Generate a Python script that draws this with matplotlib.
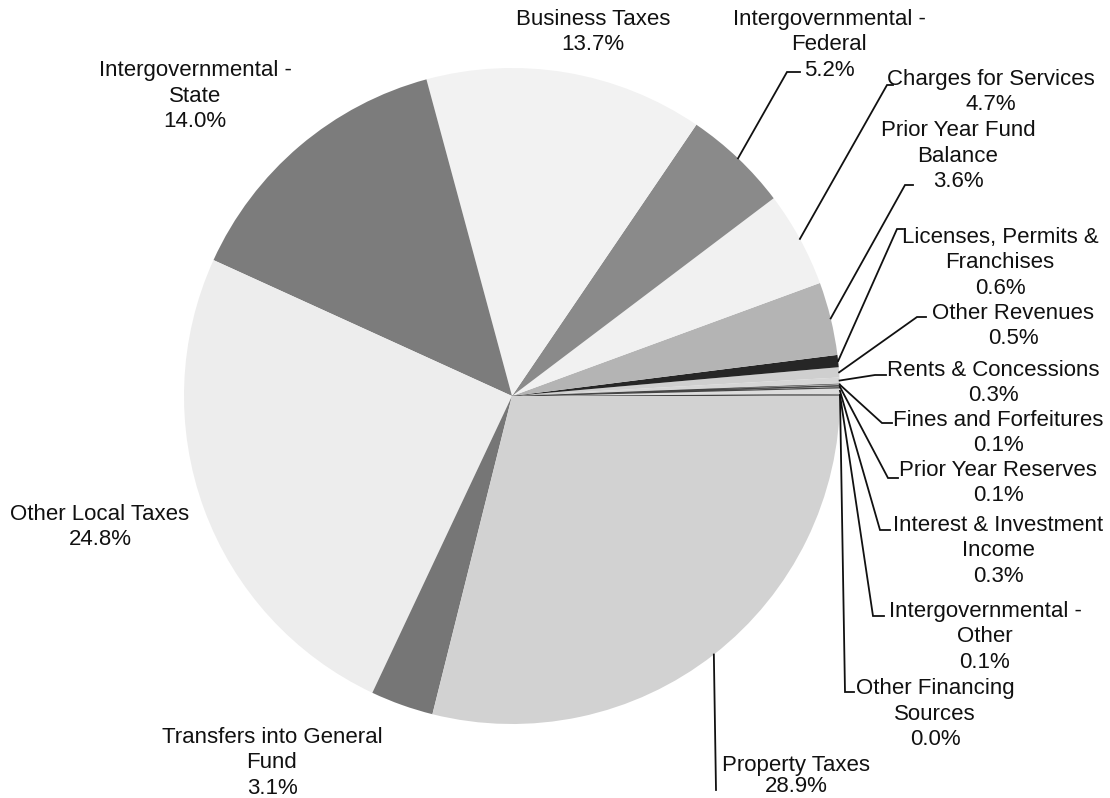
import numpy as np
import matplotlib
matplotlib.use("Agg")
import matplotlib.pyplot as plt

plt.rcParams['font.family'] = ['Liberation Sans', 'DejaVu Sans']

# slices listed counter-clockwise starting at 3 o'clock
labels = ["Other Financing\nSources", "Intergovernmental -\nOther",
          "Interest & Investment\nIncome", "Prior Year Reserves",
          "Fines and Forfeitures", "Rents & Concessions", "Other Revenues",
          "Licenses, Permits &\nFranchises", "Prior Year Fund\nBalance",
          "Charges for Services", "Intergovernmental -\nFederal",
          "Business Taxes", "Intergovernmental -\nState", "Other Local Taxes",
          "Transfers into General\nFund", "Property Taxes"]
values = [0.0, 0.1, 0.3, 0.1, 0.1, 0.3, 0.5, 0.6, 3.6, 4.7, 5.2,
          13.7, 14.0, 24.8, 3.1, 28.9]
colors = ["#e4e4e4", "#e4e4e4", "#dcdcdc", "#d8d8d8", "#dedede", "#d6d6d6",
          "#cfcfcf", "#262626", "#b4b4b4", "#f1f1f1", "#8a8a8a",
          "#f2f2f2", "#7c7c7c", "#ededed", "#767676", "#d2d2d2"]

W, H = 1110, 798
cx, cy, R = 512, H - 396, 328

# label layout in image pixels: text centre, and leader elbow (None = no leader)
text_pos = [(935, 714), (985, 637), (998, 551), (998, 483), (998, 433),
            (993, 383), (1013, 326), (1000, 263), (958, 156), (991, 92),
            (829, 45), (593, 32), (195, 96), (100, 527), (272, 763), (796, 776)]
elbows = [(845, 692, 854), (873, 616, 884), (880, 530, 890), (888, 478, 898),
          (882, 423, 892), (875, 375, 886), (917, 317, 926), (897, 229, 903),
          (905, 185, 913), (887, 85, 893), (787, 72, 800),
          None, None, None, None, (716, 790, 716)]

fig = plt.figure(figsize=(W / 100, H / 100), dpi=100)
ax = fig.add_axes([0, 0, 1, 1])
wedges, _ = ax.pie(values, colors=colors, startangle=0, counterclock=True,
                   center=(cx, cy), radius=R,
                   wedgeprops=dict(linewidth=0))
for w, v in zip(wedges, values):
    if v <= 0.1:
        w.set_edgecolor("#444444")
        w.set_linewidth(0.9)

for w, lab, v, tp, el in zip(wedges, labels, values, text_pos, elbows):
    txt = f"{lab}\n{v:.1f}%"
    ls = 1.05 if lab == "Property Taxes" else 1.3
    ax.text(tp[0], H - tp[1], txt, ha="center", va="center", fontsize=16,
            color="#111111", linespacing=ls)
    if el is not None:
        a = np.deg2rad((w.theta1 + w.theta2) / 2)
        px, py = cx + R * np.cos(a), cy + R * np.sin(a)
        ex, ey, hx = el
        ax.plot([px, ex, hx], [py, H - ey, H - ey], color="#111111",
                lw=1.3, solid_joinstyle="miter")

ax.set_xlim(0, W)
ax.set_ylim(0, H)
ax.set_aspect("equal")
ax.axis("off")
fig.savefig("out.png", dpi=100, facecolor="white")
